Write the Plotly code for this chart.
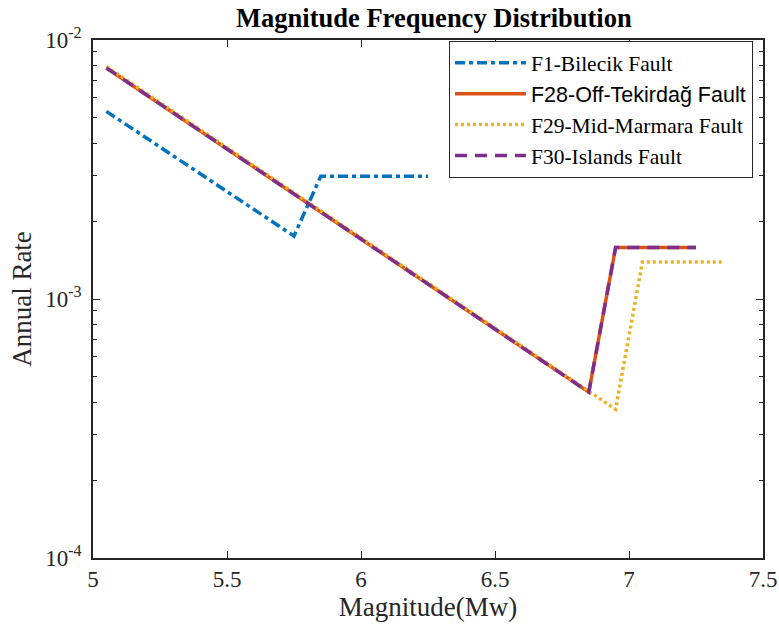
import plotly.graph_objects as go

# Data (vertices)
f1_mag = [5.05, 5.75, 5.85, 6.25]
f1_rate = [5.3e-3, 1.75e-3, 2.98e-3, 2.98e-3]

f28_mag = [5.05, 6.85, 6.95, 7.25]
f28_rate = [7.8e-3, 4.37e-4, 1.58e-3, 1.58e-3]

f29_mag = [5.05, 6.95, 7.05, 7.35]
f29_rate = [7.9e-3, 3.75e-4, 1.39e-3, 1.39e-3]

f30_mag = [5.05, 6.85, 6.95, 7.25]
f30_rate = [7.8e-3, 4.37e-4, 1.58e-3, 1.58e-3]

x_ticks = [5, 5.5, 6, 6.5, 7, 7.5]
x_ticklabels = ["5", "5.5", "6", "6.5", "7", "7.5"]
y_ticks = [1e-4, 1e-3, 1e-2]
y_ticklabels = ["10<sup>-4</sup>", "10<sup>-3</sup>", "10<sup>-2</sup>"]
y_minor = [m * 10 ** e for e in (-4, -3) for m in range(2, 10)]

serif = "Times New Roman, Liberation Serif, serif"

fig = go.Figure()
fig.add_trace(go.Scatter(x=f1_mag, y=f1_rate, mode="lines", name="F1-Bilecik Fault",
                         line=dict(color="#0072BD", width=3.5, dash="10px,4px,4px,4px")))
fig.add_trace(go.Scatter(x=f28_mag, y=f28_rate, mode="lines",
                         name="<span style='font-family:Arial, Liberation Sans'>F28-Off-Tekirdağ Fault</span>",
                         line=dict(color="#D95319", width=3.5)))
fig.add_trace(go.Scatter(x=f29_mag, y=f29_rate, mode="lines", name="F29-Mid-Marmara Fault",
                         line=dict(color="#EDB120", width=3.5, dash="3px,3px")))
fig.add_trace(go.Scatter(x=f30_mag, y=f30_rate, mode="lines", name="F30-Islands Fault",
                         line=dict(color="#7E2F8E", width=3.5, dash="12px,8px")))

axis_common = dict(showline=True, linecolor="#262626", linewidth=1.5, mirror="ticks",
                   ticks="inside", ticklen=7, tickcolor="#262626", tickwidth=1.2,
                   showgrid=False, zeroline=False, automargin=False,
                   tickfont=dict(family=serif, size=23, color="#262626"))

fig.update_xaxes(range=[5, 7.5], tickvals=x_ticks, ticktext=x_ticklabels,
                 ticklabelstandoff=0,
                 title=dict(text="Magnitude(Mw)", font=dict(family=serif, size=27, color="#262626"),
                            standoff=0),
                 **axis_common)
fig.update_yaxes(type="log", range=[-4, -2], tickvals=y_ticks, ticktext=y_ticklabels,
                 ticklabelstandoff=5,
                 minor=dict(tickvals=y_minor, ticks="inside", ticklen=4, tickcolor="#262626", tickwidth=1),
                 title=dict(text="Annual Rate", font=dict(family=serif, size=27, color="#262626"),
                            standoff=6),
                 **axis_common)

fig.update_layout(
    width=779, height=624,
    margin=dict(l=93, r=16, t=40, b=66),
    paper_bgcolor="white", plot_bgcolor="white",
    font=dict(family=serif, size=20, color="black"),
    title=dict(text="<b>Magnitude Frequency Distribution</b>", x=0.557, xanchor="center",
               y=0.971, yanchor="middle",
               font=dict(family=serif, size=26.5, color="black")),
    legend=dict(x=0.531, y=0.998, xanchor="left", yanchor="top",
                bgcolor="white", bordercolor="#262626", borderwidth=1.2,
                font=dict(family=serif, size=21.5, color="black"),
                tracegroupgap=0, itemwidth=71),
    showlegend=True,
)

# remove the browser's default 8px body margin so the figure fills the window
fig.write_html("out.html", config={"displayModeBar": False},
               post_script="document.body.style.margin='0px';")
